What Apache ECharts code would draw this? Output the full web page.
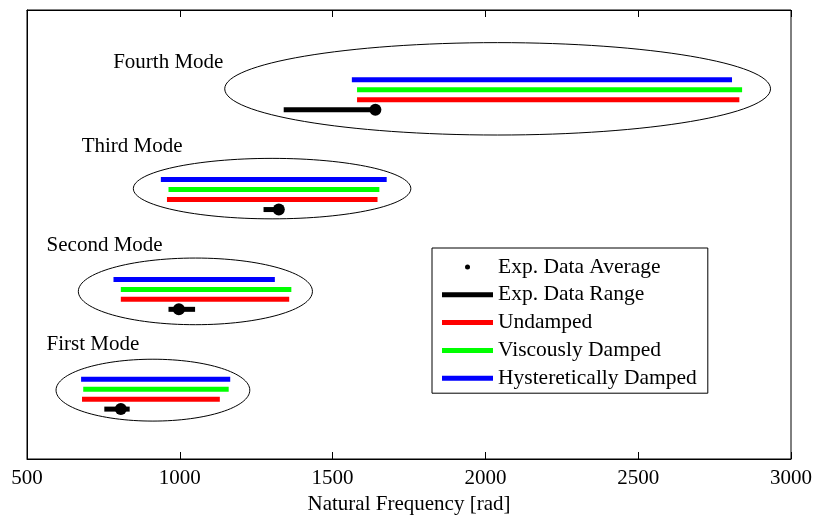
<!DOCTYPE html>
<html>
<head>
<meta charset="utf-8">
<script src="https://cdn.jsdelivr.net/npm/echarts@6/dist/echarts.min.js"></script>
<style>
  html, body { margin: 0; padding: 0; background: #fff; }
  #chart { width: 816px; height: 515px; }
</style>
</head>
<body>
<div id="chart"></div>
<script>
const FONT = "'Times New Roman', 'Liberation Serif', serif";

// [start, end, row]
const undamped = [[680, 1131, 0.6], [807, 1358, 1.6], [958, 1647, 2.6], [1580, 2831, 3.6]];
const viscous = [[684, 1160, 0.7], [807, 1365, 1.7], [963, 1653, 2.7], [1580, 2840, 3.7]];
const hysteretic = [[677, 1165, 0.8], [783, 1311, 1.8], [938, 1677, 2.8], [1563, 2807, 3.8]];
const expRange = [[753, 836, 0.5], [963, 1050, 1.5], [1274, 1328, 2.5], [1340, 1640, 3.5]];
const expAverage = [[807, 0.5], [997, 1.5], [1324, 2.5], [1640, 3.5]];

// ellipses around each mode: [cx, cy, rx, ry]
const modeEllipses = [[912, 0.69, 317, 0.31], [1051, 1.68, 383, 0.334], [1302, 2.71, 454, 0.303], [2040, 3.71, 893, 0.463]];
const modeLabels = [
  { name: 'First Mode', value: [564, 1.15] },
  { name: 'Second Mode', value: [564, 2.135] },
  { name: 'Third Mode', value: [679, 3.13] },
  { name: 'Fourth Mode', value: [782, 3.97] }
];

const xTicks = [500, 1000, 1500, 2000, 2500, 3000];

const renderSegment = (params, api) => {
  const p1 = api.coord([api.value(0), api.value(2)]);
  const p2 = api.coord([api.value(1), api.value(2)]);
  return {
    type: 'rect',
    shape: { x: p1[0], y: p1[1] - 2.5, width: p2[0] - p1[0], height: 5 },
    style: { fill: api.visual('color') }
  };
};

const renderEllipse = (params, api) => {
  const c = api.coord([api.value(0), api.value(1)]);
  const s = api.size([api.value(2), api.value(3)]);
  return {
    type: 'ellipse',
    shape: { cx: c[0], cy: c[1], rx: s[0], ry: s[1] },
    style: { fill: 'none', stroke: '#000', lineWidth: 1 }
  };
};

const segmentSeries = (name, data, color) => ({
  name,
  type: 'custom',
  renderItem: renderSegment,
  encode: { x: [0, 1], y: 2 },
  itemStyle: { color },
  data,
  z: 3
});

const chart = echarts.init(document.getElementById('chart'));

const option = {
  backgroundColor: '#fff',
  animation: false,
  textStyle: { fontFamily: FONT },
  grid: {
    left: 27, right: 25, top: 10, bottom: 56,
    outerBoundsMode: 'none',
    containLabel: false,
    show: true, borderColor: '#000', borderWidth: 1
  },
  legend: {
    orient: 'vertical',
    left: 432, top: 248,
    backgroundColor: '#fff',
    borderColor: '#000', borderWidth: 1,
    padding: [8, 11, 4, 10],
    itemWidth: 51, itemHeight: 5, itemGap: 5.8,
    textStyle: { fontFamily: FONT, fontSize: 21.5, color: '#000' },
    selectedMode: false,
    data: [
      { name: 'Exp. Data Average', icon: 'circle' },
      { name: 'Exp. Data Range', icon: 'rect' },
      { name: 'Undamped', icon: 'rect' },
      { name: 'Viscously Damped', icon: 'rect' },
      { name: 'Hysteretically Damped', icon: 'rect' }
    ]
  },
  xAxis: [
    {
      type: 'value',
      min: 500, max: 3000, interval: 500,
      name: 'Natural Frequency [rad]',
      nameLocation: 'middle',
      nameGap: 32,
      nameTextStyle: { fontFamily: FONT, fontSize: 21, color: '#000' },
      axisLine: { show: true, lineStyle: { color: '#000' } },
      axisTick: { show: true, inside: true, length: 7, lineStyle: { color: '#000' } },
      axisLabel: {
        fontFamily: FONT, fontSize: 21, color: '#000', margin: 9,
        formatter: (v) => (xTicks.includes(v) ? String(v) : '')
      },
      splitLine: { show: false }
    },
    {
      type: 'value',
      position: 'top',
      min: 500, max: 3000, interval: 500,
      axisLine: { show: true, lineStyle: { color: '#000' } },
      axisTick: { show: true, inside: true, length: 7, lineStyle: { color: '#000' } },
      axisLabel: { show: false },
      splitLine: { show: false }
    }
  ],
  yAxis: {
    type: 'value',
    min: 0, max: 4.5,
    axisLine: { show: true, lineStyle: { color: '#000' } },
    axisTick: { show: false },
    axisLabel: { show: false },
    splitLine: { show: false }
  },
  series: [
    {
      name: 'modes',
      type: 'custom',
      renderItem: renderEllipse,
      encode: { x: 0, y: 1 },
      silent: true,
      data: modeEllipses,
      z: 1
    },
    {
      name: 'labels',
      type: 'scatter',
      symbolSize: 0,
      silent: true,
      itemStyle: { opacity: 1 },
      data: modeLabels,
      label: {
        show: true,
        position: 'right',
        distance: 0,
        formatter: '{b}',
        fontFamily: FONT, fontSize: 21, color: '#000', opacity: 1
      }
    },
    segmentSeries('Exp. Data Range', expRange, '#000'),
    segmentSeries('Undamped', undamped, '#ff0000'),
    segmentSeries('Viscously Damped', viscous, '#00ff00'),
    segmentSeries('Hysteretically Damped', hysteretic, '#0000ff'),
    {
      name: 'Exp. Data Average',
      type: 'scatter',
      symbol: 'circle',
      symbolSize: 12,
      itemStyle: { color: '#000', opacity: 1 },
      data: expAverage,
      z: 4
    }
  ]
};

chart.setOption(option);
</script>
</body>
</html>
